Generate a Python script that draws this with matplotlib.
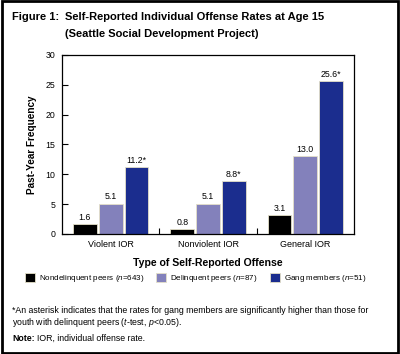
import numpy as np
import matplotlib
matplotlib.use("Agg")
import matplotlib.pyplot as plt
from matplotlib.patches import Rectangle

plt.rcParams['font.family'] = ['Liberation Sans', 'DejaVu Sans']
plt.rcParams['mathtext.fontset'] = 'custom'
plt.rcParams['mathtext.it'] = 'Liberation Sans:italic'
plt.rcParams['mathtext.rm'] = 'Liberation Sans'

# data
categories = ['Violent IOR', 'Nonviolent IOR', 'General IOR']
series_names = [r'Nondelinquent peers ($\it{n}$=643)',
                r'Delinquent peers ($\it{n}$=87)',
                r'Gang members ($\it{n}$=51)']
nondelinquent = [1.6, 0.8, 3.1]
delinquent = [5.1, 5.1, 13.0]
gang = [11.2, 8.8, 25.6]
value_labels = [['1.6', '0.8', '3.1'],
                ['5.1', '5.1', '13.0'],
                ['11.2*', '8.8*', '25.6*']]
yticks = [0, 5, 10, 15, 20, 25, 30]

colors = ['#000000', '#8381bb', '#1b2d8e']

fig = plt.figure(figsize=(4.0, 3.54), dpi=100)
ax = fig.add_axes([0.155, 0.339, 0.73, 0.506])

x = np.arange(len(categories))
offsets = [-0.265, 0.0, 0.265]
w = 0.245
for i, vals in enumerate([nondelinquent, delinquent, gang]):
    bars = ax.bar(x + offsets[i], vals, w, color=colors[i], edgecolor='#e4e0c8',
                  linewidth=0.6, label=series_names[i])
    for b, lab in zip(bars, value_labels[i]):
        ax.text(b.get_x() + b.get_width() / 2, b.get_height() + 0.35, lab,
                ha='center', va='bottom', fontsize=6.3)

ax.set_xlim(-0.5, 2.5)
ax.set_ylim(0, 30)
ax.set_yticks(yticks)
ax.tick_params(axis='y', direction='in', length=4, width=0.8, labelsize=6.3, pad=5)
ax.set_xticks(x)
ax.set_xticklabels(categories, fontsize=6.5)
ax.tick_params(axis='x', length=0, pad=4)
# little separators between groups
ax.set_xticks([0.5, 1.5], minor=True)
ax.tick_params(axis='x', which='minor', direction='in', length=4, width=0.8)
for s in ax.spines.values():
    s.set_linewidth(0.9)

ax.set_ylabel('Past-Year Frequency', fontsize=7.2, fontweight='bold', labelpad=6)
ax.set_xlabel('Type of Self-Reported Offense', fontsize=7.6, fontweight='bold', labelpad=7)

fig.legend(loc='center', bbox_to_anchor=(0.489, 0.212), ncol=3, frameon=False,
           fontsize=5.8, handlelength=1.25, handleheight=1.25, columnspacing=1.5,
           handletextpad=0.5)

fig.text(0.03, 0.952, 'Figure 1:', fontsize=8.0, fontweight='bold', va='center')
fig.text(0.163, 0.952, 'Self-Reported Individual Offense Rates at Age 15',
         fontsize=8.0, fontweight='bold', va='center')
fig.text(0.163, 0.904, '(Seattle Social Development Project)',
         fontsize=8.0, fontweight='bold', va='center')

fig.text(0.03, 0.124, '*An asterisk indicates that the rates for gang members are '
         'significantly higher than those for', fontsize=6.3, va='center')
fig.text(0.03, 0.09, r'youth with delinquent peers ($\it{t}$-test, $\it{p}$<0.05).',
         fontsize=6.3, va='center')
fig.text(0.03, 0.045, 'Note:', fontsize=6.3, fontweight='bold', va='center')
fig.text(0.093, 0.045, 'IOR, individual offense rate.', fontsize=6.3, va='center')

fig.add_artist(Rectangle((0.004, 0.004), 0.99, 0.992, transform=fig.transFigure,
                         fill=False, edgecolor='black', linewidth=2))

fig.savefig('out.png', dpi=100)
